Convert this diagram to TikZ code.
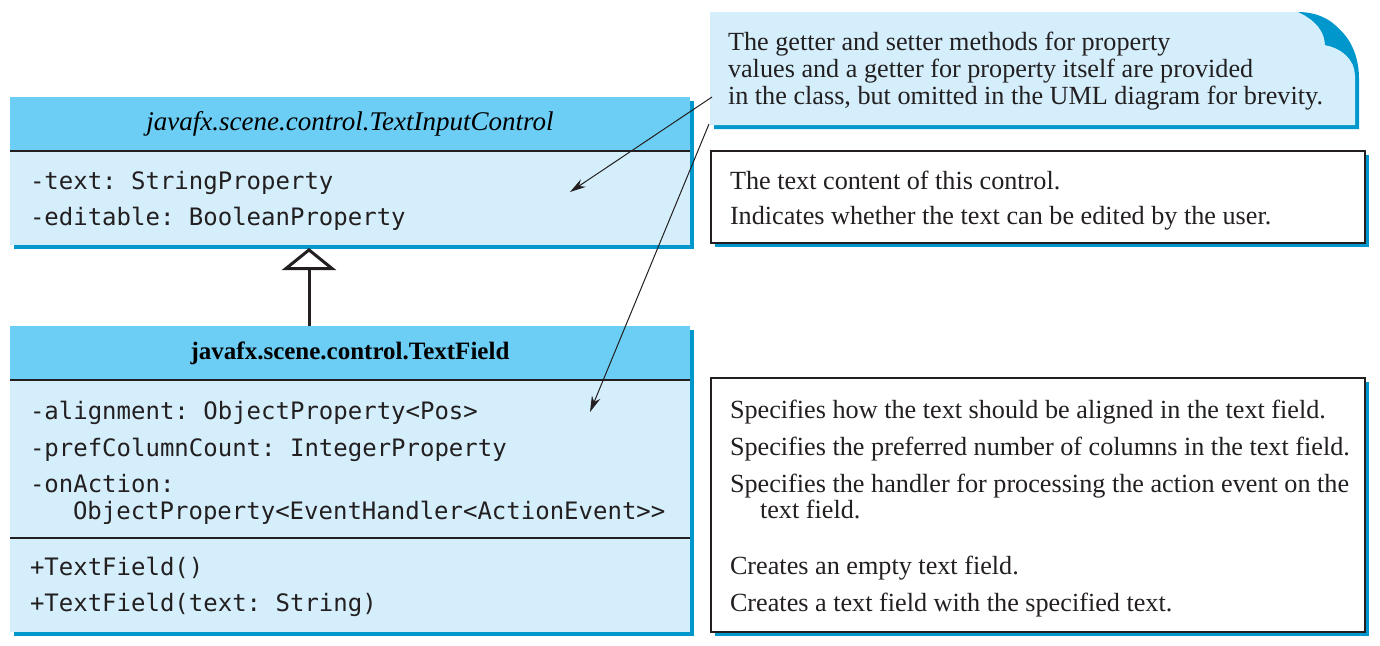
\documentclass[tikz,border=0pt]{standalone}
\usepackage{fontspec}
\setmainfont{Liberation Serif}
\setmonofont{DejaVu Sans Mono}
\usetikzlibrary{arrows.meta,shadows}
\definecolor{hdrblue}{RGB}{108,206,245}
\definecolor{bodyblue}{RGB}{212,239,251}
\definecolor{shadeblue}{RGB}{0,152,204}
\definecolor{ink}{RGB}{35,31,32}
\begin{document}
\begin{tikzpicture}[x=0.5pt,y=-0.5pt,inner sep=0pt,outer sep=0pt,
blueshadow/.style={drop shadow={shadow xshift=2pt,shadow yshift=-2pt,fill=shadeblue,opacity=1}},
classhead/.style={rectangle,fill=hdrblue,minimum width=340pt,minimum height=27pt,blueshadow},
classbody/.style={rectangle,fill=bodyblue,minimum width=340pt,blueshadow},
descbox/.style={draw=ink,line width=1pt,fill=white,minimum width=327pt,blueshadow},
member/.style={anchor=base west,font=\ttfamily\fontsize{12}{14}\selectfont,text=ink},
desc/.style={anchor=base west,font=\fontsize{13.1}{13.5}\selectfont,text=ink},
sepline/.style={draw=ink,line width=1.2pt},
noteline/.style={draw=ink,line width=0.5pt,-{Stealth[length=8pt,width=4.5pt]}},
inherit/.style={draw=ink,line width=1.5pt,-{Triangle[open,length=11pt,width=27pt]}}]
\useasboundingbox (0,0) rectangle (1380,645);
\fill[shadeblue] (714,16) -- (1302,16) .. controls (1339,16) and (1359,44) .. (1359,79) -- (1359,129) -- (714,129) -- cycle;
\fill[bodyblue] (710,12) -- (1298,12) .. controls (1316,20) and (1325,32) .. (1325,45) .. controls (1342,48) and (1355,60) .. (1355,75) -- (1355,125) -- (710,125) -- cycle;
\fill[shadeblue] (1298,12) .. controls (1335,12) and (1355,40) .. (1355,75) .. controls (1355,60) and (1342,48) .. (1325,45) .. controls (1325,32) and (1316,20) .. (1298,12) -- cycle;
\node[desc,anchor=west,align=left] (noteText) at (728,71) {The getter and setter methods for property\\values and a getter for property itself are provided\\in the class, but omitted in the UML diagram for brevity.};
\node[classhead] (ticH) at (350,124) {\fontsize{13.5}{15}\selectfont\itshape javafx.scene.control.TextInputControl};
\node[classbody,minimum height=47pt] (ticB) at (350,198) {};
\draw[sepline] (ticH.south west) -- (ticH.south east);
\node[member] (ticText) at (30,189) {-text: StringProperty};
\node[member] (ticEdit) at (30,225) {-editable: BooleanProperty};
\node[classhead] (tfH) at (350,353) {\fontsize{12.5}{14}\selectfont\bfseries javafx.scene.control.TextField};
\node[classbody,minimum height=79pt] (tfA) at (350,459) {};
\node[classbody,minimum height=47pt] (tfM) at (350,585) {};
\draw[sepline] (tfH.south west) -- (tfH.south east);
\draw[sepline] (tfA.south west) -- (tfA.south east);
\node[member] (tfAlign) at (30,419) {-alignment: ObjectProperty<Pos>};
\node[member] (tfCount) at (30,456) {-prefColumnCount: IntegerProperty};
\node[member] (tfAction) at (30,492) {-onAction:};
\node[member] (tfHandler) at (73,519) {ObjectProperty<EventHandler<ActionEvent>>};
\node[member] (tfNew) at (30,575) {+TextField()};
\node[member] (tfNewText) at (30,611) {+TextField(text: String)};
\coordinate (inh) at (309,0);
\draw[inherit,shorten >=1.5pt] (tfH.north -| inh) -- (ticB.south -| inh);
\node[descbox,minimum height=46pt] (ticDesc) at (1038,197) {};
\node[desc] (dText) at (730,189) {The text content of this control.};
\node[desc] (dEdit) at (730,224) {Indicates whether the text can be edited by the user.};
\node[descbox,minimum height=127pt] (tfDesc) at (1038,505) {};
\node[desc] (dAlign) at (730,418) {Specifies how the text should be aligned in the text field.};
\node[desc] (dCount) at (730,455) {Specifies the preferred number of columns in the text field.};
\node[desc] (dAction) at (730,492) {Specifies the handler for processing the action event on the};
\node[desc] (dAction2) at (760,518) {text field.};
\node[desc] (dNew) at (730,574) {Creates an empty text field.};
\node[desc] (dNewText) at (730,611) {Creates a text field with the specified text.};
\coordinate (noteA) at (712,97);
\coordinate (tipA) at (570,192);
\coordinate (noteB) at (709,124);
\coordinate (tipB) at (590,412);
\draw[noteline] (noteA) -- (tipA);
\draw[noteline] (noteB) -- (tipB);
\end{tikzpicture}
\end{document}
